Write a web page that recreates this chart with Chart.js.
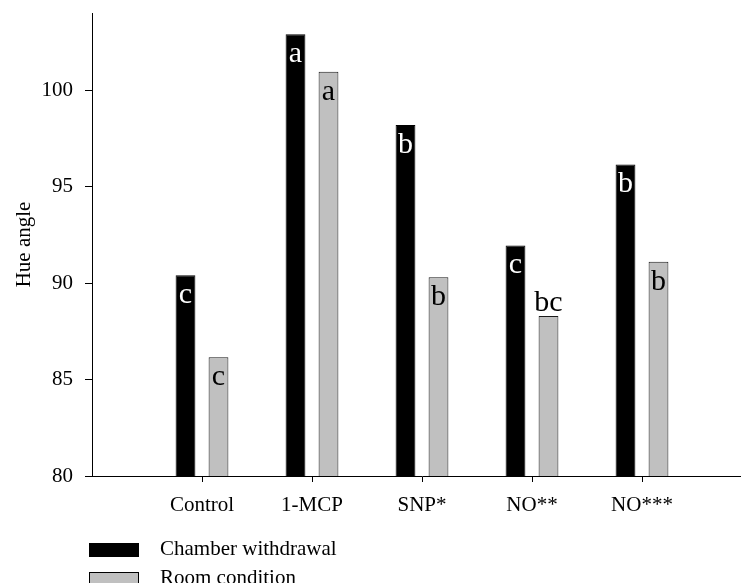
<!DOCTYPE html>
<html lang="en">
<head>
  <meta charset="UTF-8">
  <title>Hue angle</title>
  <script src="https://cdn.jsdelivr.net/npm/chart.js"></script>
  <style>
    html, body { margin: 0; padding: 0; background: #fff; overflow: hidden; }
    #wrap { width: 741px; height: 583px; overflow: hidden; }
  </style>
</head>
<body>

<div id="wrap">
  <canvas id="hueChart" width="760" height="583"></canvas>
</div>

<script>
// data
const categories = ['Control', '1-MCP', 'SNP*', 'NO**', 'NO***'];
const chamberValues = [90.4, 102.9, 98.2, 91.95, 96.15];
const roomValues = [86.15, 100.95, 90.3, 88.3, 91.1];
const chamberLetters = ['c', 'a', 'b', 'c', 'b'];
const roomLetters = ['c', 'a', 'b', 'bc', 'b'];
const yTicks = [80, 85, 90, 95, 100];

const serif = '"Liberation Serif", "Times New Roman", serif';

// empty slot on each side so the axis runs on like in the original
const labels = [''].concat(categories, ['']);
const pad = arr => [null].concat(arr, [null]);
const letters = [pad(chamberLetters), pad(roomLetters)];

const letterPlugin = {
  id: 'letters',
  afterDatasetsDraw(chart) {
    const ctx = chart.ctx;
    ctx.save();
    ctx.font = '30px ' + serif;
    ctx.textAlign = 'center';
    ctx.textBaseline = 'alphabetic';
    chart.data.datasets.forEach((ds, di) => {
      const meta = chart.getDatasetMeta(di);
      meta.data.forEach((bar, i) => {
        const txt = letters[di][i];
        if (!txt) return;
        const w = ctx.measureText(txt).width;
        if (w > bar.width + 2) {
          ctx.fillStyle = '#000';
          ctx.fillText(txt, bar.x, bar.y - 5);
        } else {
          ctx.fillStyle = di === 0 ? '#fff' : '#000';
          ctx.fillText(txt, bar.x, bar.y + 28);
        }
      });
    });
    ctx.restore();
  }
};

const legendPlugin = {
  id: 'sideLegend',
  afterDraw(chart) {
    const ctx = chart.ctx;
    ctx.save();
    ctx.font = '21px ' + serif;
    ctx.textBaseline = 'middle';
    chart.data.datasets.forEach((ds, i) => {
      const y = 543 + i * 29;
      ctx.fillStyle = ds.backgroundColor;
      ctx.fillRect(89, y, 50, 14);
      ctx.strokeStyle = '#000';
      ctx.lineWidth = 1;
      ctx.strokeRect(89.5, y + 0.5, 49, 13);
      ctx.fillStyle = '#000';
      ctx.fillText(ds.label, 160, y + 6);
    });
    ctx.restore();
  }
};

const ctx = document.getElementById('hueChart').getContext('2d');
new Chart(ctx, {
  type: 'bar',
  data: {
    labels: labels,
    datasets: [
      {
        label: 'Chamber withdrawal',
        data: pad(chamberValues),
        backgroundColor: '#000000',
        borderColor: '#000000',
        borderWidth: 1
      },
      {
        label: 'Room condition',
        data: pad(roomValues),
        backgroundColor: '#c0c0c0',
        borderColor: '#1a1a1a',
        borderWidth: 1
      }
    ]
  },
  options: {
    responsive: false,
    animation: false,
    layout: { padding: { top: 13, right: 8, bottom: 0, left: 0 } },
    datasets: { bar: { categoryPercentage: 0.6, barPercentage: 0.6 } },
    plugins: {
      legend: { display: false },
      tooltip: { enabled: false }
    },
    scales: {
      x: {
        offset: false,
        afterFit: s => {
          s.height = 107;
          s.paddingLeft = 0;
          s.paddingRight = 0;
        },
        grid: {
          offset: false,
          drawOnChartArea: false,
          drawTicks: true,
          tickLength: 6,
          color: c => (c.tick && c.tick.label === '') ? 'rgba(0,0,0,0)' : '#000'
        },
        border: { display: true, color: '#000', width: 1 },
        ticks: {
          color: '#000',
          font: { family: serif, size: 21 },
          padding: 11,
          maxRotation: 0,
          autoSkip: false
        }
      },
      y: {
        min: 80,
        max: 104,
        afterFit: s => {
          s.width = 92;
          s.paddingTop = 0;
          s.paddingBottom = 0;
        },
        afterBuildTicks: s => { s.ticks = yTicks.map(v => ({ value: v })); },
        grid: {
          drawOnChartArea: false,
          drawTicks: true,
          tickLength: 7,
          color: '#000'
        },
        border: { display: true, color: '#000', width: 1 },
        ticks: {
          color: '#000',
          font: { family: serif, size: 21 },
          padding: 12
        },
        title: {
          display: true,
          text: 'Hue angle',
          color: '#000',
          font: { family: serif, size: 21 },
          padding: { top: 12, bottom: 0 }
        }
      }
    }
  },
  plugins: [letterPlugin, legendPlugin]
});
</script>

</body>
</html>
